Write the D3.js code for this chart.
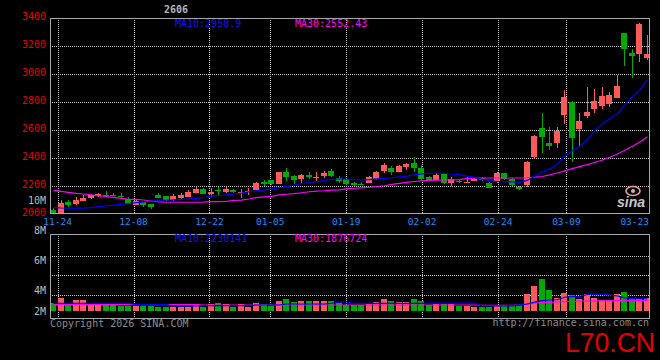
<!DOCTYPE html>
<html><head><meta charset="utf-8">
<script src="https://cdn.jsdelivr.net/npm/d3@7"></script>
<style>html,body{margin:0;padding:0;background:#000;}svg{display:block}</style>
</head><body>
<svg id="c" width="660" height="360"></svg>
<script>
const dates = ["11-21","11-24","11-25","11-26","11-27","11-28",
"12-01","12-02","12-03","12-04","12-05","12-08","12-09","12-10","12-11","12-12","12-15","12-16","12-17","12-18","12-19","12-22","12-23","12-24","12-25","12-26","12-29","12-30","12-31",
"01-05","01-06","01-07","01-08","01-09","01-12","01-13","01-14","01-15","01-16","01-19","01-20","01-21","01-22","01-23","01-26","01-27","01-28","01-29","01-30",
"02-02","02-03","02-04","02-05","02-06","02-09","02-10","02-11","02-12","02-13","02-24","02-25","02-26","02-27",
"03-02","03-03","03-04","03-05","03-06","03-09","03-10","03-11","03-12","03-13","03-16","03-17","03-18","03-19","03-20","03-23","03-24"];

const open  = [2030,2005,2084,2071,2093,2116,2126,2138,2138,2128,2105,2064,2084,2071,2136,2129,2100,2116,2124,2152,2179,2145,2171,2155,2171,2152,2159,2171,2226,2243,2214,2300,2271,2250,2279,2260,2271,2307,2255,2248,2219,2217,2224,2250,2307,2331,2302,2333,2362,2329,2262,2243,2283,2224,2238,2225,2238,2255,2224,2231,2290,2248,2195,2207,2410,2616,2509,2509,2707,2802,2607,2700,2750,2771,2786,2829,3293,3152,3145,3116];
const high  = [2040,2100,2100,2119,2136,2143,2150,2164,2150,2152,2124,2107,2088,2075,2152,2132,2143,2150,2171,2195,2185,2183,2193,2190,2176,2176,2183,2231,2243,2245,2302,2331,2276,2283,2302,2298,2310,2319,2271,2250,2226,2226,2270,2305,2366,2343,2350,2362,2405,2350,2270,2290,2290,2262,2245,2262,2255,2262,2230,2302,2295,2255,2200,2380,2565,2724,2624,2619,2886,2805,2724,2910,2893,2905,2874,2993,3293,3179,3366,3279];
const low   = [1995,2000,2052,2064,2093,2107,2119,2124,2130,2105,2069,2062,2048,2036,2112,2090,2090,2107,2120,2150,2140,2124,2138,2150,2150,2117,2136,2168,2202,2205,2212,2238,2212,2219,2248,2238,2255,2267,2224,2205,2198,2205,2220,2245,2295,2279,2298,2314,2302,2240,2238,2240,2212,2200,2224,2219,2235,2236,2185,2225,2245,2200,2171,2190,2400,2438,2457,2469,2643,2374,2486,2688,2719,2748,2767,2829,3057,2969,3088,3100];
const close = [2008,2081,2064,2100,2116,2134,2143,2131,2133,2121,2071,2095,2064,2050,2116,2100,2129,2136,2159,2179,2145,2157,2164,2179,2155,2159,2164,2224,2217,2214,2300,2267,2243,2279,2267,2267,2295,2274,2238,2212,2205,2210,2267,2300,2350,2298,2343,2359,2326,2248,2243,2281,2219,2248,2229,2227,2250,2240,2188,2290,2252,2207,2179,2374,2559,2552,2486,2595,2838,2541,2664,2731,2809,2843,2850,2914,3181,3131,3357,3143];

const ma10 = [2048,2043,2041,2041,2041,2046,2052,2057,2064,2069,2075,2081,2086,2093,2096,2100,2101,2104,2107,2111,2118,2129,2132,2136,2143,2150,2159,2166,2171,2179,2189,2196,2207,2218,2225,2232,2239,2248,2250,2250,2246,2243,2246,2251,2255,2259,2266,2271,2279,2287,2291,2291,2291,2284,2282,2271,2261,2248,2239,2232,2231,2229,2226,2240,2270,2301,2322,2353,2416,2450,2484,2530,2595,2645,2680,2717,2780,2838,2887,2958.9];
const ma30 = [2169,2161,2155,2148,2143,2136,2129,2125,2119,2112,2105,2104,2100,2093,2086,2084,2084,2084,2084,2084,2085,2088,2088,2090,2098,2099,2107,2117,2122,2126,2136,2141,2145,2152,2159,2163,2166,2171,2173,2179,2184,2186,2191,2195,2202,2212,2219,2226,2232,2236,2240,2242,2243,2244,2246,2252,2256,2256,2257,2257,2257,2257,2257,2259,2264,2268,2279,2293,2308,2324,2338,2353,2368,2386,2405,2428,2456,2484,2515,2552.43];

// volume in millions
const volume = [1.40,2.36,1.27,2.00,2.00,1.27,1.27,1.09,1.09,0.96,0.96,0.96,0.96,0.91,0.78,0.78,0.67,0.67,0.78,1.27,0.78,1.27,1.51,1.27,0.78,1.27,0.78,1.51,1.27,0.91,1.87,2.18,1.69,1.87,1.82,1.82,1.82,1.82,1.40,1.09,1.09,1.09,1.27,1.69,2.18,1.82,1.69,1.58,2.18,1.82,1.09,1.27,1.27,1.22,0.91,0.91,0.78,0.78,0.78,0.91,0.91,0.91,0.91,3.09,4.55,5.82,3.82,2.31,3.27,2.91,2.18,3.09,2.31,2.00,1.82,3.09,3.45,2.31,2.31,2.31];
const volMa10 = [1.40,1.40,1.40,1.40,1.40,1.40,1.40,1.40,1.40,1.40,1.40,1.18,1.18,1.18,1.18,1.18,0.91,0.91,0.91,0.91,0.96,0.96,0.96,0.96,0.96,0.96,0.96,1.09,1.09,1.09,1.09,1.27,1.27,1.27,1.27,1.27,1.27,1.40,1.64,1.64,1.40,1.40,1.40,1.40,1.40,1.40,1.40,1.40,1.40,1.40,1.45,1.45,1.45,1.45,1.45,1.45,1.45,0.95,0.91,0.91,0.91,0.93,1.10,1.27,1.60,1.90,2.00,2.05,2.50,2.60,2.65,3.00,3.04,3.04,2.90,2.73,2.40,2.28,2.25,2.23];
const volMa30 = [1.15,1.15,1.15,1.15,1.15,1.15,1.15,1.15,1.15,1.15,1.15,1.15,1.15,1.15,1.15,1.15,1.15,1.15,1.15,1.15,1.09,1.09,1.09,1.09,1.09,1.09,1.09,1.09,1.09,1.09,1.09,1.09,1.09,1.09,1.09,1.09,1.09,1.09,1.09,1.09,1.09,1.09,1.09,1.09,1.09,1.09,1.09,1.09,1.09,1.09,1.09,1.09,1.09,1.09,1.09,1.09,1.09,1.05,1.05,1.05,1.05,1.05,1.12,1.25,1.42,1.52,1.57,1.64,1.70,1.75,1.79,1.82,1.84,1.85,1.87,1.88,1.88,1.88,1.88,1.877];

const priceTicks = [2000,2200,2400,2600,2800,3000,3200,3400];
const xTicks = ["11-24","12-08","12-22","01-05","01-19","02-02","02-24","03-09","03-23"];
const volTicks = [2,4,6,8,10];
const volTickLabels = ["2M","4M","6M","8M","10M"];
const legendMain = ["MA10:2958.9","MA30:2552.43"];
const legendVol = ["MA10:2230141","MA30:1876724"];

const UP = "#ff5a5a", DOWN = "#00aa00";
const FONT = "'DejaVu Sans Mono', monospace";
const L = 50, R = 650, mainTop = 18, mainBot = 214, volTop = 234, volBot = 318;

const svg = d3.select("#c");
svg.append("rect").attr("width",660).attr("height",360).attr("fill","#000");

const x = d3.scaleBand().domain(dates).range([L, R]).paddingInner(0.2).paddingOuter(0);
const gx = d3.scalePoint().domain(dates).range([L, R]);
const y = d3.scaleLinear().domain([2000, 3400]).range([mainBot, mainTop]);
const yv = d3.scaleLinear().domain([0, 10]).range([311, 256]);
const yvLab = d3.scaleLinear().domain([0, 10]).range([350.7, 200.7]);

const defs = svg.append("defs");
defs.append("clipPath").attr("id","clipMain").append("rect")
  .attr("x",L).attr("y",mainTop).attr("width",R-L).attr("height",mainBot-mainTop);
defs.append("clipPath").attr("id","clipVol").append("rect")
  .attr("x",L).attr("y",volTop).attr("width",R-L).attr("height",volBot-volTop);

const GRID = "#c8c8c8", BORDER = "#a8a8a8";
const grid = svg.append("g").attr("stroke",GRID).attr("stroke-dasharray","1,1").attr("shape-rendering","crispEdges");
grid.selectAll("line.hp").data(priceTicks.filter(t=>t>2000 && t<3400)).join("line")
  .attr("x1",L).attr("x2",R).attr("y1",d=>Math.round(y(d))+0.5).attr("y2",d=>Math.round(y(d))+0.5);
grid.selectAll("line.hv").data([256,275,295]).join("line")
  .attr("x1",L).attr("x2",R).attr("y1",d=>d+0.5).attr("y2",d=>d+0.5);
const vgrid = xTicks.slice(0, xTicks.length-1);
grid.selectAll("line.vm").data(vgrid).join("line")
  .attr("x1",d=>Math.round(gx(d))+0.5).attr("x2",d=>Math.round(gx(d))+0.5).attr("y1",mainTop).attr("y2",mainBot);
grid.selectAll("line.vv").data(vgrid).join("line")
  .attr("x1",d=>Math.round(gx(d))+0.5).attr("x2",d=>Math.round(gx(d))+0.5).attr("y1",volTop).attr("y2",volBot);

const rows = dates.map((d,i)=>({d, o:open[i], h:high[i], l:low[i], c:close[i], v:volume[i]}));
const col = r => r.c >= r.o ? UP : DOWN;
const bx = r => Math.round(x(r.d));

const gc = svg.append("g").attr("clip-path","url(#clipMain)").attr("shape-rendering","crispEdges");
gc.selectAll("rect.w").data(rows).join("rect")
  .attr("x",r=>bx(r)+3).attr("width",1)
  .attr("y",r=>Math.round(y(r.h))).attr("height",r=>Math.max(1,Math.round(y(r.l))-Math.round(y(r.h))))
  .attr("fill",col);
gc.selectAll("rect.b").data(rows).join("rect")
  .attr("x",r=>bx(r)).attr("width",6)
  .attr("y",r=>Math.round(y(Math.max(r.o,r.c))))
  .attr("height",r=>Math.max(1,Math.round(y(Math.min(r.o,r.c)))-Math.round(y(Math.max(r.o,r.c)))))
  .attr("fill",col);

const lineMain = d3.line().x((d,i)=>x(dates[i])+3.5).y(d=>y(d));
const gl = svg.append("g").attr("clip-path","url(#clipMain)").attr("fill","none").attr("stroke-width",1.2);
gl.append("path").attr("d",lineMain(ma30)).attr("stroke","#ff00ff");
gl.append("path").attr("d",lineMain(ma10)).attr("stroke","#0000ff");

const gv = svg.append("g").attr("clip-path","url(#clipVol)").attr("shape-rendering","crispEdges");
gv.selectAll("rect").data(rows).join("rect")
  .attr("x",r=>bx(r)).attr("width",6)
  .attr("y",r=>Math.round(yv(r.v))).attr("height",r=>311-Math.round(yv(r.v)))
  .attr("fill",col);
const lineVol = d3.line().x((d,i)=>x(dates[i])+3.5).y(d=>yv(d));
const glv = svg.append("g").attr("clip-path","url(#clipVol)").attr("fill","none").attr("stroke-width",1.2);
glv.append("path").attr("d",lineVol(volMa30)).attr("stroke","#ff00ff");
glv.append("path").attr("d",lineVol(volMa10)).attr("stroke","#0000ff");

const logo = svg.append("g");
logo.append("ellipse").attr("cx",633).attr("cy",191).attr("rx",7).attr("ry",4.5)
  .attr("fill","none").attr("stroke","#f4a0a0").attr("stroke-width",1.6);
logo.append("circle").attr("cx",633).attr("cy",191).attr("r",2).attr("fill","#bbb");
logo.append("text").attr("x",617).attr("y",207).attr("font-family","'Liberation Sans', Arial, sans-serif")
  .attr("font-size",14).attr("font-weight","bold").attr("font-style","italic").attr("fill","#c8c8c8").text("sina");

const gb = svg.append("g").attr("fill","none").attr("stroke",BORDER).attr("shape-rendering","crispEdges");
gb.append("rect").attr("x",L+0.5).attr("y",mainTop+0.5).attr("width",R-L-1).attr("height",mainBot-mainTop-1);
gb.append("rect").attr("x",L+0.5).attr("y",volTop+0.5).attr("width",R-L-1).attr("height",volBot-volTop);

svg.append("g").selectAll("text").data(priceTicks).join("text")
  .attr("x",46).attr("y",d=>y(d)+2).attr("text-anchor","end")
  .attr("font-family",FONT).attr("font-size",10).attr("fill","#e60000").text(d=>d);
svg.append("g").selectAll("text").data(volTicks).join("text")
  .attr("x",46).attr("y",d=>Math.min(311,yvLab(d))+3.6).attr("text-anchor","end")
  .attr("font-family",FONT).attr("font-size",10).attr("fill","#bdbdbd").text((d,i)=>volTickLabels[i]);
svg.append("g").selectAll("text").data(xTicks).join("text")
  .attr("x",d=>Math.min(gx(d), 649-14.3)).attr("y",225.4).attr("text-anchor","middle")
  .attr("font-family",FONT).attr("font-size",9.5).attr("fill","#1a8cff").text(d=>d);

const lg = [[175,"#1010ff"],[295,"#ff00ff"]];
legendMain.forEach((t,i)=>svg.append("text").attr("x",lg[i][0]).attr("y",27.3)
  .attr("font-family",FONT).attr("font-size",10).attr("fill",lg[i][1]).text(t));
legendVol.forEach((t,i)=>svg.append("text").attr("x",lg[i][0]).attr("y",241.5)
  .attr("font-family",FONT).attr("font-size",10).attr("fill",lg[i][1]).text(t));

svg.append("text").attr("x",164).attr("y",13.3).attr("font-family",FONT).attr("font-size",10)
  .attr("font-weight","bold").attr("fill","#b8b8b8").text("2606");
svg.append("text").attr("x",50).attr("y",326.5).attr("font-family",FONT).attr("font-size",10)
  .attr("fill","#8c8c8c").text("Copyright 2026 SINA.COM");
svg.append("text").attr("x",649).attr("y",326).attr("text-anchor","end").attr("font-family",FONT).attr("font-size",10)
  .attr("fill","#8c8c8c").text("http://finance.sina.com.cn");
svg.append("text").attr("x",655).attr("y",352).attr("text-anchor","end")
  .attr("font-family","'Liberation Sans', Arial, sans-serif").attr("font-size",27)
  .attr("textLength",90).attr("lengthAdjust","spacingAndGlyphs")
  .attr("fill","#e00000").text("L70.CN");
</script>
</body></html>
